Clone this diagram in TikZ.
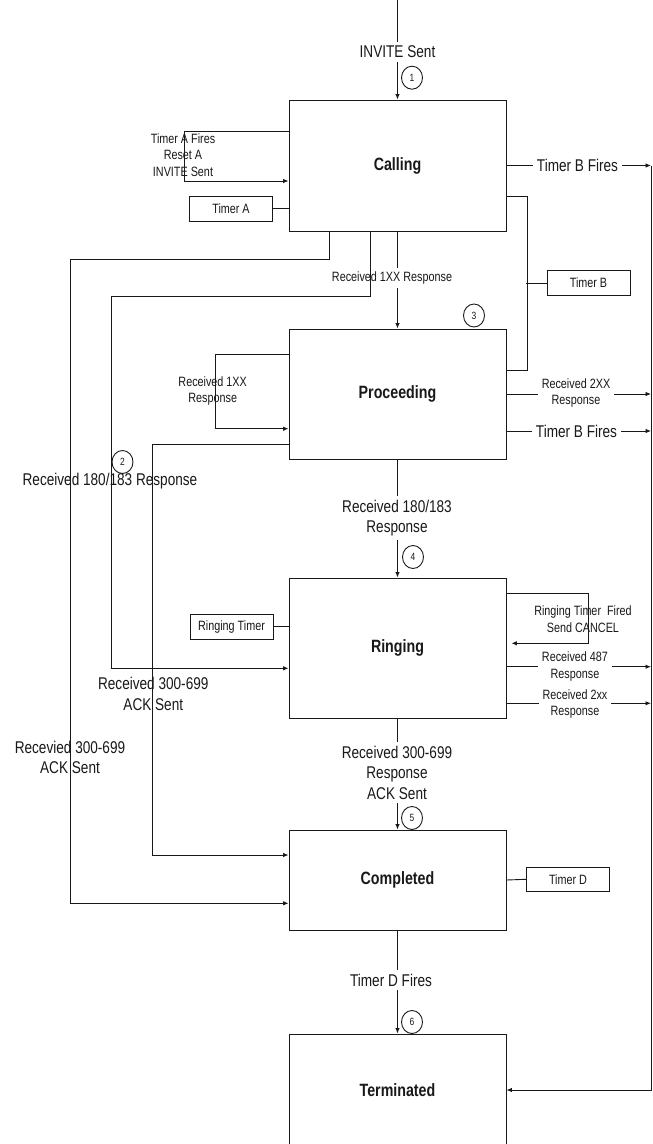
\documentclass[tikz,border=0pt]{standalone}
\usepackage{fontspec}
\setmainfont[FakeStretch=0.8]{Liberation Sans}
\usetikzlibrary{arrows.meta,calc,shapes.geometric}
\begin{document}
\begin{tikzpicture}[x=1pt,y=-1pt,
  line width=0.9pt, color=black!90,
  state/.style={draw, minimum width=217pt, inner sep=0pt, font=\fontsize{17.8}{20}\selectfont\bfseries},
  timerbox/.style={draw, minimum width=83pt, minimum height=25pt, inner sep=0pt, font=\fontsize{13.5}{15}\selectfont},
  num/.style={draw, ellipse, minimum width=21pt, minimum height=23pt, inner sep=0pt, font=\fontsize{10.5}{11}\selectfont},
  lbl/.style={align=center, inner sep=1pt, font=\fontsize{17}{20.5}\selectfont},
  lblw/.style={lbl, fill=white, inner sep=4pt},
  slbl/.style={align=center, inner sep=1pt, font=\fontsize{13.5}{16.7}\selectfont},
  slblw/.style={slbl, fill=white, inner sep=4pt},
  arr/.style={-{Latex[length=5.5pt,width=4.5pt]}}
]
\useasboundingbox (0,0) rectangle (653,1144);
\clip (0,0) rectangle (653,1144);
\fill[white] (0,0) rectangle (653,1144);

% states
\node[state, minimum height=131pt] (calling) at (397.5,165.5) {Calling};
\node[state, minimum height=130pt] (proceeding) at (397.5,394) {Proceeding};
\node[state, minimum height=140pt] (ringing) at (397.5,648) {Ringing};
\node[state, minimum height=100pt] (completed) at (397.5,880) {Completed};
\node[state, minimum height=112pt] (terminated) at (397.5,1090) {Terminated};

% timers
\node[timerbox] (timerA) at (231,208.7) {Timer A};
\node[timerbox] (timerB) at (588.5,283) {Timer B};
\node[timerbox] (ringtimer) at (231.5,626.8) {Ringing Timer};
\node[timerbox, minimum height=24pt] (timerD) at (568,879.3) {Timer D};

\coordinate (start) at (397.5,0);
\coordinate (rail) at (651,165.5);

% entry
\draw[arr] (start) -- (calling.north);
\node[lblw] (invite) at (397.5,52) {INVITE Sent};
\node[num] (n1) at (412,77.7) {1};

% Timer A loop
\draw[arr] ([yshift=34.5pt]calling.west) -- ++(-104,0) -- ++(0,50) -- ([yshift=-15.5pt]calling.west);
\node[slbl] (loopA) at (183,155) {Timer A Fires\\Reset A\\INVITE Sent};
\draw (timerA.east) -- (timerA.east -| calling.west);

% Timer B fires (top) and rail
\draw[arr] (calling.east) -- (rail);
\draw[arr] (rail) |- (terminated.east);
\node[lblw] (tbf1) at (577.5,165.5) {Timer B Fires};

% Timer B wiring
\draw ([yshift=-31.2pt]calling.east) -- ++(21,0) |- ([yshift=24pt]proceeding.east);
\draw (timerB.west) -- ++(-20.5,0);

% Calling -> Proceeding
\draw[arr] (calling.south) -- (proceeding.north);
\node[slblw] (r1xx) at (392,278) {Received 1XX Response};
\node[num] (n3) at (474,315.5) {3};

% long left lines
\draw[arr] ([xshift=41pt]calling.south west) -- ++(0,27.5) -- ++(-259.5,0) |- ([yshift=-23.3pt]completed.west);
\draw[arr] ([xshift=81.7pt]calling.south west) -- ++(0,65) -- ++(-258.4,0) |- ([yshift=-20.3pt]ringing.west);
\draw[arr] ([yshift=-50.3pt]proceeding.west) -- ++(-135.7,0) |- ([yshift=25pt]completed.west);

% Received 1XX loop
\draw[arr] ([yshift=39.7pt]proceeding.west) -- ++(-73,0) -- ++(0,74.4) -- ([yshift=-34.7pt]proceeding.west);
\node[slbl] (loop1xx) at (212.7,391) {Received 1XX\\Response};

% Proceeding right side
\draw[arr] (proceeding.east) -- (proceeding.east -| rail);
\node[slblw] (r2xx) at (576,393) {Received 2XX\\Response};
\coordinate (tbf2) at ([yshift=-37pt]proceeding.east);
\draw[arr] (tbf2) -- (tbf2 -| rail);
\node[lblw] (tbf2l) at (576.5,431) {Timer B Fires};

% Proceeding -> Ringing
\draw[arr] (proceeding.south) -- (ringing.north);
\node[lblw] (r180) at (397,518) {Received 180/183\\Response};
\node[num] (n4) at (413,557) {4};
\node[lbl] (r180l) at (110,481) {Received 180/183 Response};
\node[num] (n2) at (122.5,462) {2};

% Ringing
\draw (ringtimer.east) -- (ringtimer.east -| ringing.west);
\draw[arr] ([yshift=54.7pt]ringing.east) -- ++(82.3,0) -- ++(0,50) -- ([xshift=5pt,yshift=4.7pt]ringing.east);
\node[slbl] (cancel) at (583,619) {Ringing Timer\ \ Fired\\Send CANCEL};
\coordinate (r487) at ([yshift=-18.7pt]ringing.east);
\draw[arr] (r487) -- (r487 -| rail);
\node[slblw] (r487l) at (575,666.5) {Received 487\\Response};
\coordinate (r2xxr) at ([yshift=-55.3pt]ringing.east);
\draw[arr] (r2xxr) -- (r2xxr -| rail);
\node[slblw] (r2xxl) at (575,704) {Received 2xx\\Response};

\node[lbl] (r300a) at (153.3,694) {Received 300-699\\ACK Sent};
\node[lbl] (r300b) at (70,757.5) {Recevied 300-699\\ACK Sent};

% Ringing -> Completed
\draw[arr] (ringing.south) -- (completed.north);
\node[lblw] (r300c) at (397,772.5) {Received 300-699\\Response\\ACK Sent};
\node[num] (n5) at (412,818) {5};

% Completed
\draw (completed.east) -- (timerD.west);
\draw[arr] (completed.south) -- (terminated.north);
\node[lblw] (tdf) at (391,980) {Timer D Fires};
\node[num] (n6) at (412,1022) {6};
\end{tikzpicture}
\end{document}
